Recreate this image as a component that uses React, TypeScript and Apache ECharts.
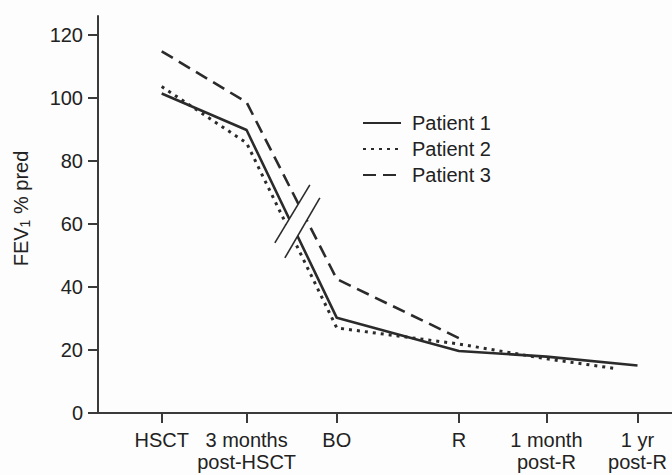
import React, { useEffect, useRef } from "react";
import * as echarts from "echarts";

const categories = ["HSCT", "3 months\npost-HSCT", "BO", "R", "1 month\npost-R", "1 yr\npost-R"];
const categoryX = [0.72, 1.68, 2.7, 4.08, 5.07, 6.1];
const yTicks = [0, 20, 40, 60, 80, 100, 120];

const patient1X = [0.72, 1.68, 2.7, 4.08, 5.07, 6.1];
const patient1Y = [101.4, 89.8, 30.2, 19.7, 17.9, 15.1];
const patient2X = [0.72, 1.68, 2.7, 4.08, 5.07, 5.88];
const patient2Y = [103.6, 85.7, 27, 21.9, 17.2, 14];
const patient3X = [0.72, 1.68, 2.7, 4.1];
const patient3Y = [114.8, 98.6, 42.5, 23.5];

const breakCenter = [2.254, 60.95];

const INK = "#2b2b2b";
const FS = 20;

export default function App() {
  const ref = useRef<HTMLDivElement>(null);
  useEffect(() => {
    document.body.style.margin = "0";
    const chart = echarts.init(ref.current!, null, { renderer: "svg" });
    const pairs = (xs: number[], ys: number[]) => xs.map((x, i) => [x, ys[i]]);
    const mkSeries = (name: string, xs: number[], ys: number[], type: any, width: number) => ({
      name,
      type: "line",
      data: pairs(xs, ys),
      symbol: "none",
      lineStyle: { color: INK, width, type, cap: "butt" },
      itemStyle: { color: INK },
    });
    chart.setOption({
      animation: false,
      backgroundColor: "#fdfdfd",
      textStyle: { fontFamily: "Liberation Sans, Arial, sans-serif" },
      grid: { left: 98, right: 0, top: 16, bottom: 62, containLabel: false },
      legend: {
        orient: "vertical",
        left: 357,
        top: 108,
        itemWidth: 38,
        itemHeight: 14,
        itemGap: 6,
        itemStyle: { opacity: 0, borderWidth: 0 },
        textStyle: { fontSize: FS, color: "#222", padding: [0, 0, 0, 6] },
        data: ["Patient 1", "Patient 2", "Patient 3"],
      },
      xAxis: {
        type: "value",
        min: 0,
        max: 6.49,
        splitLine: { show: false },
        axisLine: { lineStyle: { color: "#3a3a3a", width: 2 } },
        axisTick: { show: true, length: 10, customValues: categoryX, lineStyle: { color: "#3a3a3a", width: 2 } },
        axisLabel: {
          customValues: categoryX,
          fontSize: FS,
          color: "#222",
          margin: 16,
          lineHeight: 22,
          formatter: (v: number) => {
            const i = categoryX.findIndex((c) => Math.abs(c - v) < 1e-6);
            return i >= 0 ? categories[i] : "";
          },
        },
      },
      yAxis: {
        type: "value",
        min: 0,
        max: 126,
        name: "FEV{sub|1} % pred",
        nameLocation: "middle",
        nameGap: 66,
        nameTextStyle: {
          fontSize: FS,
          color: "#222",
          padding: [0, 0, 0, 12],
          rich: { sub: { fontSize: 14, verticalAlign: "bottom", padding: [9, 0, 0, 0] } },
        },
        splitLine: { show: false },
        axisLine: { show: true, lineStyle: { color: "#3a3a3a", width: 2 } },
        axisTick: { show: true, length: 10, customValues: yTicks, lineStyle: { color: "#3a3a3a", width: 2 } },
        axisLabel: { customValues: yTicks, fontSize: FS, color: "#222", margin: 15 },
      },
      series: [
        mkSeries("Patient 1", patient1X, patient1Y, "solid", 2.6),
        mkSeries("Patient 2", patient2X, patient2Y, [3, 5], 3),
        mkSeries("Patient 3", patient3X, patient3Y, [13, 7], 2.6),
      ],
    });
    const c = chart.convertToPixel({ gridIndex: 0 }, breakCenter) as number[];
    const [cx, cy] = c;
    const l1 = [[cx + 12.5, cy - 36], [cx - 22.5, cy + 22]];
    const l2 = [[cx + 22.5, cy - 23], [cx - 12.5, cy + 37]];
    chart.setOption({
      graphic: [
        {
          type: "polygon",
          shape: { points: [l1[0], l2[0], l2[1], l1[1]] },
          style: { fill: "#fdfdfd" },
          z: 100,
        },
        { type: "line", shape: { x1: l1[0][0], y1: l1[0][1], x2: l1[1][0], y2: l1[1][1] }, style: { stroke: INK, lineWidth: 1.6 }, z: 101 },
        { type: "line", shape: { x1: l2[0][0], y1: l2[0][1], x2: l2[1][0], y2: l2[1][1] }, style: { stroke: INK, lineWidth: 1.6 }, z: 101 },
      ],
    });
    return () => chart.dispose();
  }, []);
  return <div ref={ref} style={{ width: 672, height: 475 }} />;
}
